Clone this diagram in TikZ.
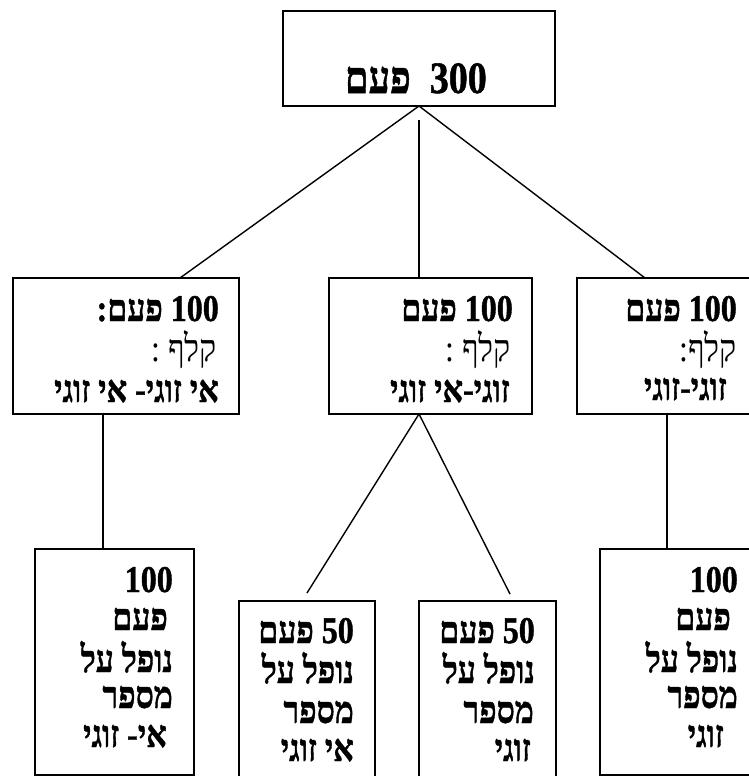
\documentclass[tikz,border=0pt]{standalone}
\usepackage{fontspec}
\TeXXeTstate=1
\newfontfamily\heb[Script=Hebrew]{Liberation Serif}
\newfontfamily\hebb[Script=Hebrew, FakeBold=1.2]{Liberation Serif Bold}
\tikzset{
  box/.style={draw, line width=1.6pt, inner sep=0pt, outer sep=0pt, anchor=north west},
  conn/.style={line width=1.4pt},
  tb/.style={anchor=base east, inner sep=0pt, font=\hebb\fontsize{32}{40}\selectfont},
  tr/.style={anchor=base east, inner sep=0pt, font=\heb\fontsize{32}{40}\selectfont},
  tbig/.style={anchor=base east, inner sep=0pt, font=\hebb\fontsize{38}{44}\selectfont}
}
\newcommand{\R}[1]{\scalebox{1}[1.18]{\beginR #1\endR}}
\newcommand{\Ln}[1]{\beginL #1\endL{}}
\begin{document}
\begin{tikzpicture}[x=1pt,y=-1pt]
\useasboundingbox (0,0) rectangle (748,776);
% boxes
\node[box, minimum width=272pt, minimum height=95pt] (top) at (283,11) {};
\node[box, minimum width=226pt, minimum height=136pt] (midL) at (13,278) {};
\node[box, minimum width=203pt, minimum height=136pt] (midM) at (329,278) {};
\node[box, minimum width=175pt, minimum height=136pt] (midR) at (577,278) {};
\node[box, minimum width=159pt, minimum height=226pt] (botL) at (35,549) {};
\node[box, minimum width=136pt, minimum height=180pt] (botML) at (239,601) {};
\node[box, minimum width=137pt, minimum height=180pt] (botMR) at (419,601) {};
\node[box, minimum width=152pt, minimum height=226pt] (botR) at (600,549) {};
% connectors
\draw[conn] (top.south) -- ([xshift=54pt]midL.north);
\draw[conn] ([yshift=-14pt]top.south) -- (top.south |- midM.north);
\draw[conn] (top.south) -- ([xshift=-19.5pt]midR.north);
\draw[conn] ([xshift=-11.5pt]botL.north) -- ([xshift=-11.5pt]botL.north |- midL.south);
\draw[conn] ([xshift=-11.5pt]midM.south) -- ([yshift=8pt]botML.north);
\draw[conn] ([xshift=-11.5pt]midM.south) -- ([xshift=22.5pt,yshift=7pt]botMR.north);
\draw[conn] ([xshift=-9pt]botR.north) -- ([xshift=-9pt]botR.north |- midR.south);
% texts
\node[tbig] (t0) at (487,93) {\R{\Ln{300}\ \ פעם}};
\node[tb] (l1) at (219,321) {\R{\Ln{100} פעם:}};
\node[tr] (l2) at (217,361) {\R{קלף :}};
\node[tb] (l3) at (219,402) {\R{אי זוגי- אי זוגי}};
\node[tb] (m1) at (513,321) {\R{\Ln{100} פעם}};
\node[tr] (m2) at (511,361) {\R{קלף :}};
\node[tb] (m3) at (510,402) {\R{זוגי-אי זוגי}};
\node[tb] (r1) at (737,321) {\R{\Ln{100} פעם}};
\node[tr] (r2) at (737,361) {\R{קלף:}};
\node[tb] (r3) at (727,400) {\R{זוגי-זוגי}};
\node[tb] (a1) at (173,592) {\R{\Ln{100}}};
\node[tb] (a2) at (168,630) {\R{פעם}};
\node[tb] (a3) at (173,672) {\R{נופל על}};
\node[tb] (a4) at (173,708) {\R{מספר}};
\node[tb] (a5) at (167,747) {\R{אי- זוגי}};
\node[tb] (b1) at (354,643) {\R{\Ln{50} פעם}};
\node[tb] (b2) at (354,683) {\R{נופל על}};
\node[tb] (b3) at (354,723) {\R{מספר}};
\node[tb] (b4) at (354,761) {\R{אי זוגי}};
\node[tb] (c1) at (535,643) {\R{\Ln{50} פעם}};
\node[tb] (c2) at (535,683) {\R{נופל על}};
\node[tb] (c3) at (534,723) {\R{מספר}};
\node[tb] (c4) at (531,761) {\R{זוגי}};
\node[tb] (d1) at (738,592) {\R{\Ln{100}}};
\node[tb] (d2) at (731,630) {\R{פעם}};
\node[tb] (d3) at (738,672) {\R{נופל על}};
\node[tb] (d4) at (738,708) {\R{מספר}};
\node[tb] (d5) at (724,747) {\R{זוגי}};
\end{tikzpicture}
\end{document}
